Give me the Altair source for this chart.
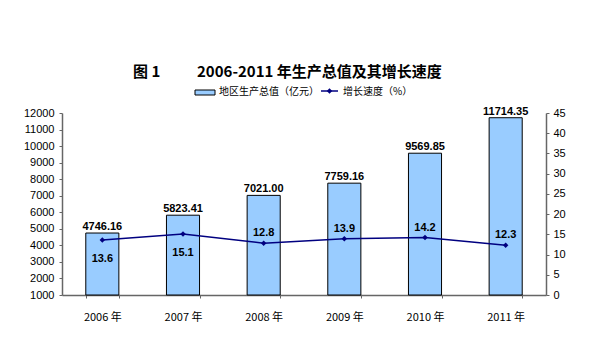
import altair as alt
import pandas as pd

years = ["2006 年", "2007 年", "2008 年", "2009 年", "2010 年", "2011 年"]
gdp = [4746.16, 5823.41, 7021.00, 7759.16, 9569.85, 11714.35]
growth = [13.6, 15.1, 12.8, 13.9, 14.2, 12.3]
label_below = [True, True, False, False, False, False]

df = pd.DataFrame({"year": years, "gdp": gdp, "growth": growth, "below": label_below})

FONT = "Liberation Sans"
CJK = "Noto Sans CJK SC"
NAVY = "#000080"
BAR = "#99CCFF"

xenc = alt.X("year:N", sort=years, title=None,
             scale=alt.Scale(paddingInner=0.59, paddingOuter=0.295),
             axis=alt.Axis(labelAngle=0, labelFont=CJK, labelFontSize=11, labelColor="black",
                           labelPadding=13, tickBand="extent", tickSize=3, tickColor="#666666",
                           domainColor="#666666", domainWidth=1.5))

yleft = alt.Y("gdp:Q", title=None,
              scale=alt.Scale(domain=[1000, 12000], zero=False, nice=False),
              axis=alt.Axis(values=list(range(1000, 12001, 1000)), format="d", labelOverlap=False,
                            labelFont=FONT, labelFontSize=11,
                            labelColor="black", grid=False, tickSize=3, tickColor="#666666",
                            domainColor="#666666", domainWidth=1.5, labelPadding=5,
                            labelFlush=False))

yright = alt.Y("growth:Q", title=None,
               scale=alt.Scale(domain=[0, 45], nice=False),
               axis=alt.Axis(orient="right", values=list(range(0, 46, 5)), format="d",
                             labelOverlap=False, labelFont=FONT,
                             labelFontSize=11, labelColor="black", grid=False, tickSize=3,
                             tickColor="#666666", domainColor="#666666", domainWidth=1.5,
                             labelPadding=4, labelFlush=False))

base = alt.Chart(df)

bars = base.mark_bar(color=BAR, stroke="black", strokeWidth=1).encode(
    x=xenc, y=yleft, y2=alt.datum(1000))
bar_lab = base.mark_text(baseline="bottom", dy=-1, font=FONT, fontSize=11, fontWeight="bold",
                         color="black").encode(
    x=alt.X("year:N", sort=years), y=yleft, text=alt.Text("gdp:Q", format=".2f"))
left = alt.layer(bars, bar_lab)

line = base.mark_line(color=NAVY, strokeWidth=1.5).encode(
    x=alt.X("year:N", sort=years), y=yright)
pts = base.mark_point(shape="diamond", filled=True, color=NAVY, size=30, opacity=1).encode(
    x=alt.X("year:N", sort=years), y=yright)
lab_below = base.transform_filter("datum.below").mark_text(
    dy=19, font=FONT, fontSize=11, fontWeight="bold", color="black").encode(
    x=alt.X("year:N", sort=years), y=yright, text=alt.Text("growth:Q", format=".1f"))
lab_above = base.transform_filter("!datum.below").mark_text(
    dy=-10, font=FONT, fontSize=11, fontWeight="bold", color="black").encode(
    x=alt.X("year:N", sort=years), y=yright, text=alt.Text("growth:Q", format=".1f"))
right = alt.layer(line, pts, lab_below, lab_above)

# title and legend (decorations)
def txt(s, x, y, size, weight="normal", font=CJK, align="left"):
    return alt.Chart(pd.DataFrame({"t": [s]})).mark_text(
        align=align, baseline="middle", fontSize=size, fontWeight=weight, font=font,
        color="black").encode(x=alt.value(x), y=alt.value(y), text="t:N")

title1 = txt("图 1", 71, -41, 15, "bold")
title2 = txt("2006-2011 年生产总值及其增长速度", 135, -41, 15, "bold")
leg_rect = alt.Chart(pd.DataFrame({"a": [0]})).mark_rect(
    color=BAR, stroke="black", strokeWidth=1).encode(
    x=alt.value(133), x2=alt.value(153), y=alt.value(-23), y2=alt.value(-18))
leg_t1 = txt("地区生产总值（亿元）", 157, -21, 10)
leg_line = alt.Chart(pd.DataFrame({"a": [0]})).mark_rule(color=NAVY, strokeWidth=1.5).encode(
    x=alt.value(259), x2=alt.value(276), y=alt.value(-22))
leg_pt = alt.Chart(pd.DataFrame({"a": [0]})).mark_point(
    shape="diamond", filled=True, color=NAVY, size=30, opacity=1).encode(
    x=alt.value(267.5), y=alt.value(-22))
leg_t2 = txt("增长速度（%）", 281, -21, 10)

chart = alt.layer(left, right, title1, title2, leg_rect, leg_t1, leg_line, leg_pt, leg_t2).resolve_scale(
    y="independent"
).properties(
    width=484, height=182,
    autosize=alt.AutoSizeParams(type="none"),
    padding={"left": 62, "top": 113, "right": 60, "bottom": 57},
    background="white",
).configure_view(stroke=None)

chart.save("out.html", embed_options={"renderer": "svg", "actions": False})
